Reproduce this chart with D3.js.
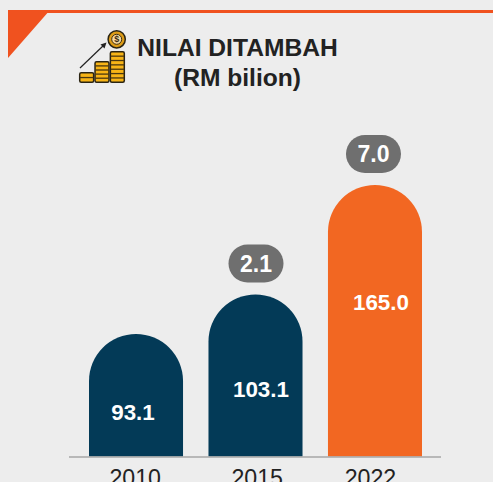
<!DOCTYPE html>
<html><head><meta charset="utf-8">
<script src="https://cdnjs.cloudflare.com/ajax/libs/d3/7.8.5/d3.min.js"></script>
<style>html,body{margin:0;padding:0;background:#ededed;overflow:hidden}svg{display:block;font-family:"Liberation Sans",Arial,sans-serif}</style>
</head><body><div id="chart"></div>
<script>
const years = ["2010","2015","2022"];
const values = [93.1,103.1,165.0];
const growth = [null,2.1,7.0];
const barColors = ["#033a57","#033a57","#f26722"];
const labelOffsets = [-3,5.5,6];
const labelYs = [412,389,302];
const tickOffsets = [-0.8,1.7,-4.5];
const pillOffsets = [0,0.5,-1.5];
const titleLines = ["NILAI DITAMBAH","(RM bilion)"];
const coinCounts = [2,5,7];
const coinHeights = [9.5,20.5,30.5];

const W=493,H=482,base=456.5;
const svg=d3.select("#chart").append("svg").attr("width",W).attr("height",H);
svg.append("rect").attr("width",W).attr("height",H).attr("fill","#ededed");

// The source bars are not drawn to a single linear ratio, so the scale is piecewise.
const y=d3.scaleLinear().domain([0,93.1,103.1,165]).range([base,334,294.5,185]);
const x=d3.scaleBand().domain(years).range([89,422]).paddingInner(0.213).paddingOuter(0);

// top decoration
svg.append("rect").attr("x",8).attr("y",10).attr("width",W-8).attr("height",3).attr("fill","#f0521f");
svg.append("path").attr("d","M8,10H50L8,58Z").attr("fill","#f0521f");

// title
svg.append("g").selectAll("text").data(titleLines).join("text")
  .attr("x",237.5).attr("y",(d,i)=>56+i*29.5).attr("text-anchor","middle")
  .attr("font-size",24.6).attr("font-weight",700).attr("fill","#222").text(d=>d);

// icon
const ic=svg.append("g");
const colX=d3.scaleBand().domain(d3.range(coinCounts.length)).range([79,125]);
coinCounts.forEach((n,i)=>{
  const h=coinHeights[i];
  ic.append("rect").attr("x",colX(i)+.7).attr("y",82.3-h).attr("width",colX.bandwidth()-1.4).attr("height",h)
    .attr("rx",1.5).attr("fill","#f7b416").attr("stroke","#2a2413").attr("stroke-width",1.5);
  d3.range(1,n).forEach(k=>{
    const yy=82.3-k*h/n;
    ic.append("line").attr("x1",colX(i)+1).attr("x2",colX(i)+colX.bandwidth()-1).attr("y1",yy).attr("y2",yy)
      .attr("stroke","#4a3710").attr("stroke-width",1.3);
  });
});
ic.append("line").attr("x1",80).attr("y1",68).attr("x2",104).attr("y2",45).attr("stroke","#222").attr("stroke-width",1.2);
ic.append("path").attr("d","M106.5,42.5L100.5,44.5L104.5,48.5Z").attr("fill","#222");
ic.append("circle").attr("cx",116.7).attr("cy",39.3).attr("r",8.6).attr("fill","#dd9c17").attr("stroke","#2a2413").attr("stroke-width",1.5);
ic.append("circle").attr("cx",116.7).attr("cy",39.3).attr("r",5).attr("fill","#f7d9a0").attr("stroke","#3a2c10").attr("stroke-width",1);
ic.append("text").attr("x",116.7).attr("y",42.3).attr("text-anchor","middle").attr("font-size",9).attr("font-weight",700).attr("fill","#3a2c10").text("$");

// bars with fully round tops
svg.append("g").selectAll("path").data(years).join("path")
  .attr("d",(d,i)=>{
    const x0=x(d),w=x.bandwidth(),r=w/2,t=y(values[i]);
    return `M${x0},${base}V${t+r}A${r},${r} 0 0 1 ${x0+w},${t+r}V${base}Z`;
  }).attr("fill",(d,i)=>barColors[i]);

// axis (labels run past the bottom edge, as in the source)
const axis=svg.append("g").attr("transform",`translate(0,${base})`).call(d3.axisBottom(x).tickSize(0).tickPadding(13));
axis.select(".domain").remove();
svg.append("line").attr("x1",69).attr("x2",441).attr("y1",base+.5).attr("y2",base+.5).attr("stroke","#a6a6a6").attr("stroke-width",1.4);
axis.selectAll("text").attr("font-size",23.2).attr("font-family","'Liberation Sans',Arial,sans-serif").attr("fill","#222")
  .attr("dx",(d,i)=>tickOffsets[i]);

// bar labels
svg.append("g").selectAll("text").data(values).join("text")
  .attr("x",(d,i)=>x(years[i])+x.bandwidth()/2+labelOffsets[i])
  .attr("y",(d,i)=>labelYs[i]+7.5).attr("text-anchor","middle")
  .attr("font-size",22.4).attr("font-weight",700).attr("fill","#fff").text(d=>d.toFixed(1));

// growth pills
const pillData=years.map((d,i)=>({d,g:growth[i],v:values[i],o:pillOffsets[i]})).filter(o=>o.g!==null);
const pills=svg.append("g").selectAll("g").data(pillData).join("g");
pills.append("rect").attr("x",o=>x(o.d)+x.bandwidth()/2+o.o-27.5).attr("y",o=>y(o.v)-50).attr("width",55).attr("height",38).attr("rx",19).attr("fill","#6f6f6f");
pills.append("text").attr("x",o=>x(o.d)+x.bandwidth()/2+o.o).attr("y",o=>y(o.v)-23).attr("text-anchor","middle")
  .attr("font-size",23).attr("font-weight",700).attr("fill","#fff").text(o=>o.g.toFixed(1));
</script></body></html>
